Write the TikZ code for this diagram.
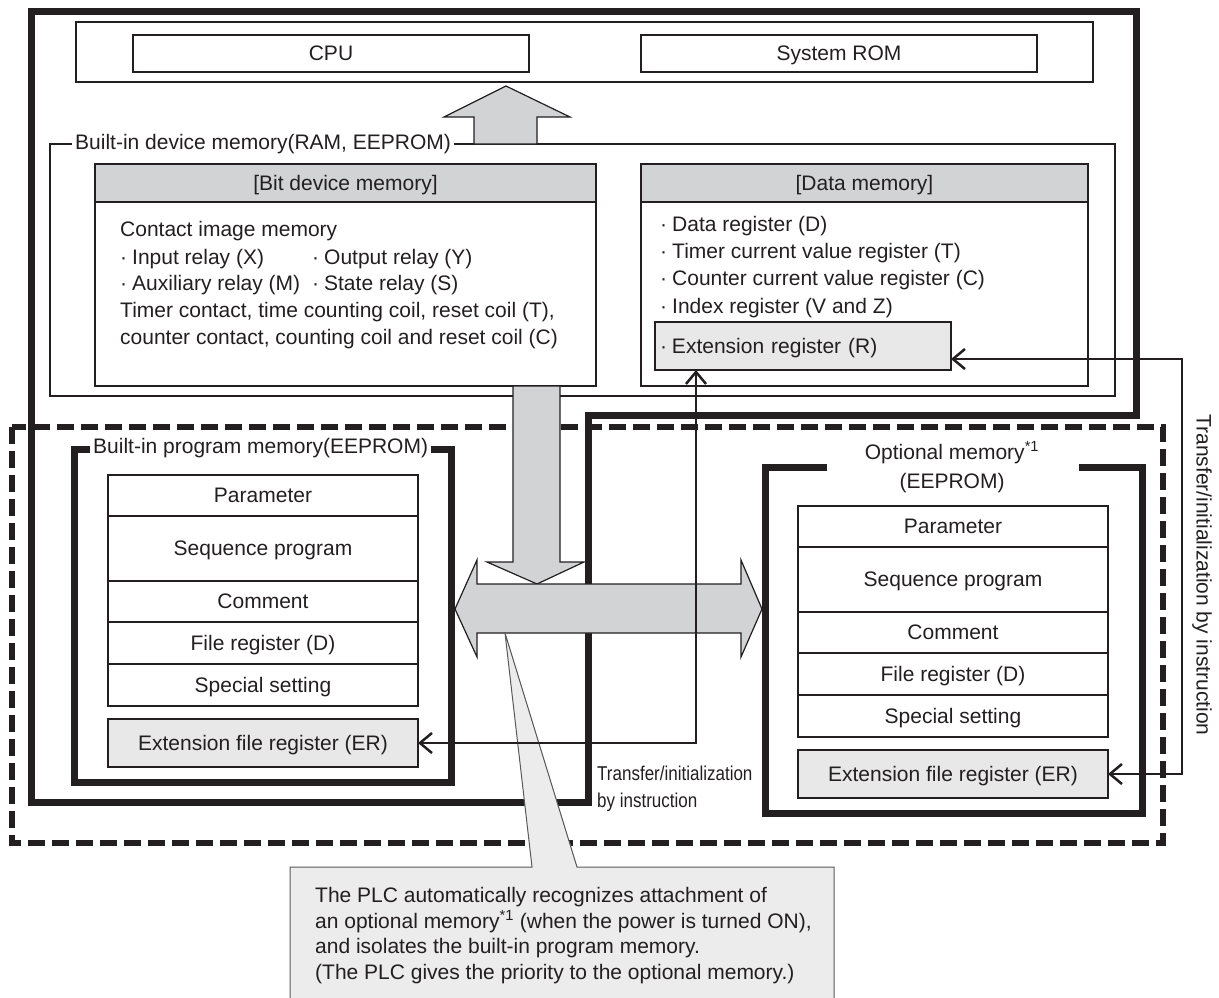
\documentclass[tikz,border=0pt]{standalone}
\usepackage{fontspec}
\setmainfont{Liberation Sans}
\newfontfamily\narrowfont[FakeStretch=0.85]{Liberation Sans}
\usepackage{tikz}
\usetikzlibrary{positioning}
\usetikzlibrary{arrows.meta}

\definecolor{ink}{HTML}{231F20}
\definecolor{headgray}{HTML}{D1D3D4}
\definecolor{regfill}{HTML}{E8E8E9}
\definecolor{notefill}{HTML}{ECECEC}
\definecolor{noteline}{HTML}{58595B}

\newcommand{\listdot}{·\hspace{5pt}}

\tikzset{
  txt/.style={font=\fontsize{21}{27}\selectfont, text=ink, inner sep=0pt},
  mid/.style={txt, text height=14pt, text depth=0pt},
  box/.style={draw=ink, line width=1.5pt, outer sep=0pt},
  cell/.style={box, mid, minimum width=310pt},
  regbox/.style={draw=ink, line width=2.8pt, fill=regfill, outer sep=0pt, mid, minimum width=310pt, minimum height=48pt},
  heavy/.style={draw=ink, line width=7pt},
  fat/.style={fill=headgray, draw=ink, line width=1.2pt},
  link/.style={draw=ink, line width=2.5pt, <->, >={Straight Barb[length=12pt,width=20pt]}},
}

\begin{document}
\begin{tikzpicture}[x=1pt, y=-1pt]
\useasboundingbox (0,0) rectangle (1219,997);

% frames
\draw[ink, line width=6pt, dash pattern=on 17pt off 7pt] (12,427) rectangle (1163,843);
\draw[heavy] (31,11) -- (1136,11) -- (1136,415) -- (588,415) -- (588,802) -- (31,802) -- cycle;

% CPU and ROM
\node[box, line width=1.2pt, minimum width=1017pt, minimum height=60pt, anchor=north west] (cpuRom) at (76,22) {};
\node[box, mid, minimum width=396pt, minimum height=37pt, anchor=north west] (cpu) at (133,35) {CPU};
\node[box, mid, minimum width=396pt, minimum height=37pt, anchor=north west] (sysRom) at (641,35) {System ROM};

% built-in device memory
\node[draw=ink, line width=2.5pt, outer sep=0pt, minimum width=1065pt, minimum height=252pt, anchor=north west] (devMem) at (50,144) {};
\node[txt, fill=white, inner xsep=3pt, inner ysep=2pt, anchor=west] (devLabel) at (72,144) {Built-in device memory(RAM, EEPROM)};
\draw[fat] (474,144) -- (474,117) -- (444,117) -- (506,86) -- (570,117) -- (537,117) -- (537,144) -- cycle;

\node[draw=ink, line width=2pt, outer sep=0pt, minimum width=501pt, minimum height=222pt, anchor=north west] (bitBox) at (95,164) {};
\node[draw=ink, line width=2pt, fill=headgray, outer sep=0pt, mid, minimum width=501pt, minimum height=38pt, anchor=north west] (bitHead) at (95,164) {[Bit device memory]};
\node[txt, anchor=base west] (bitA) at (120,236) {Contact image memory};
\node[txt, anchor=base west] (bitB) at (120,264) {\makebox[192pt][l]{\listdot Input relay (X)}\listdot Output relay (Y)};
\node[txt, anchor=base west] (bitC) at (120,290) {\makebox[192pt][l]{\listdot Auxiliary relay (M)}\listdot State relay (S)};
\node[txt, anchor=base west] (bitD) at (120,317) {Timer contact, time counting coil, reset coil (T),};
\node[txt, anchor=base west] (bitE) at (120,344) {counter contact, counting coil and reset coil (C)};

\node[draw=ink, line width=2pt, outer sep=0pt, minimum width=447pt, minimum height=222pt, anchor=north west] (dataBox) at (641,164) {};
\node[draw=ink, line width=2pt, fill=headgray, outer sep=0pt, mid, minimum width=447pt, minimum height=38pt, anchor=north west] (dataHead) at (641,164) {[Data memory]};
\node[txt, anchor=base west] (dataA) at (660,231) {\listdot Data register (D)};
\node[txt, anchor=base west] (dataB) at (660,258) {\listdot Timer current value register (T)};
\node[txt, anchor=base west] (dataC) at (660,285) {\listdot Counter current value register (C)};
\node[txt, anchor=base west] (dataD) at (660,313) {\listdot Index register (V and Z)};
\node[regbox, minimum width=296pt, text width=286pt, align=left, inner xsep=5pt, anchor=north west] (extReg) at (655,322) {\listdot Extension register (R)};

% built-in program memory
\draw[heavy] (74,449) rectangle (451,782);
\node[txt, fill=white, inner xsep=3pt, inner ysep=2pt, anchor=west] (progLabel) at (90,448) {Built-in program memory(EEPROM)};
\node[cell, minimum height=41pt, anchor=north west] (par1) at (108,475) {Parameter};
\node[cell, minimum height=65pt, below=0pt of par1] (seq1) {Sequence program};
\node[cell, minimum height=41pt, below=0pt of seq1] (com1) {Comment};
\node[cell, minimum height=42pt, below=0pt of com1] (fil1) {File register (D)};
\node[cell, minimum height=42pt, below=0pt of fil1] (spc1) {Special setting};
\draw[ink, line width=2.5pt] (par1.north west) rectangle (spc1.south east);
\node[regbox, below=13pt of spc1] (er1) {Extension file register (ER)};

% optional memory
\draw[heavy] (827,467) -| (765,813) -| (1142,467) -- (1079,467);
\node[txt, align=center, font=\fontsize{21}{29}\selectfont] (optLabel) at (952,467) {Optional memory\textsuperscript{*1}\\(EEPROM)};
\node[cell, minimum height=41pt, anchor=north west] (par2) at (798,506) {Parameter};
\node[cell, minimum height=65pt, below=0pt of par2] (seq2) {Sequence program};
\node[cell, minimum height=41pt, below=0pt of seq2] (com2) {Comment};
\node[cell, minimum height=42pt, below=0pt of com2] (fil2) {File register (D)};
\node[cell, minimum height=42pt, below=0pt of fil2] (spc2) {Special setting};
\draw[ink, line width=2.5pt] (par2.north west) rectangle (spc2.south east);
\node[regbox, below=13pt of spc2] (er2) {Extension file register (ER)};

% big arrows
\draw[fat] (513,386) -- (513,562) -- (487,562) -- (537,584) -- (584,562) -- (560,562) -- (560,386) -- cycle;
\draw[fat] (455,609) -- (477,560) -- (477,584) -- (741,584) -- (741,560) -- (762,609) -- (741,657) -- (741,633) -- (477,633) -- (477,657) -- cycle;

% callout
\draw[noteline, fill=notefill, line width=1pt] (290,867) -- (532,867) -- (505,633) -- (577,867) -- (834,867) -- (834,1010) -- (290,1010) -- cycle;
\node[txt, anchor=base west] (noteA) at (315,902) {The PLC automatically recognizes attachment of};
\node[txt, anchor=base west] (noteB) at (315,928) {an optional memory\textsuperscript{*1} (when the power is turned ON),};
\node[txt, anchor=base west] (noteC) at (315,953) {and isolates the built-in program memory.};
\node[txt, anchor=base west] (noteD) at (315,979) {(The PLC gives the priority to the optional memory.)};

% transfer paths
\node[txt, font=\narrowfont\fontsize{20}{27}\selectfont, anchor=base west] (trA) at (597,780) {Transfer/initialization};
\node[txt, font=\narrowfont\fontsize{20}{27}\selectfont, anchor=base west] (trB) at (597,807) {by instruction};
\node[txt, rotate=-90] (sideLabel) at (1202,575) {Transfer/initialization by instruction};
\coordinate (upX) at (696,0);
\coordinate (sideX) at (1182,0);
\draw[link] (er1.east) -| (upX |- extReg.south);
\draw[link] ([yshift=-13pt]extReg.east) -| (sideX |- er2.east) -- (er2.east);
\end{tikzpicture}
\end{document}
